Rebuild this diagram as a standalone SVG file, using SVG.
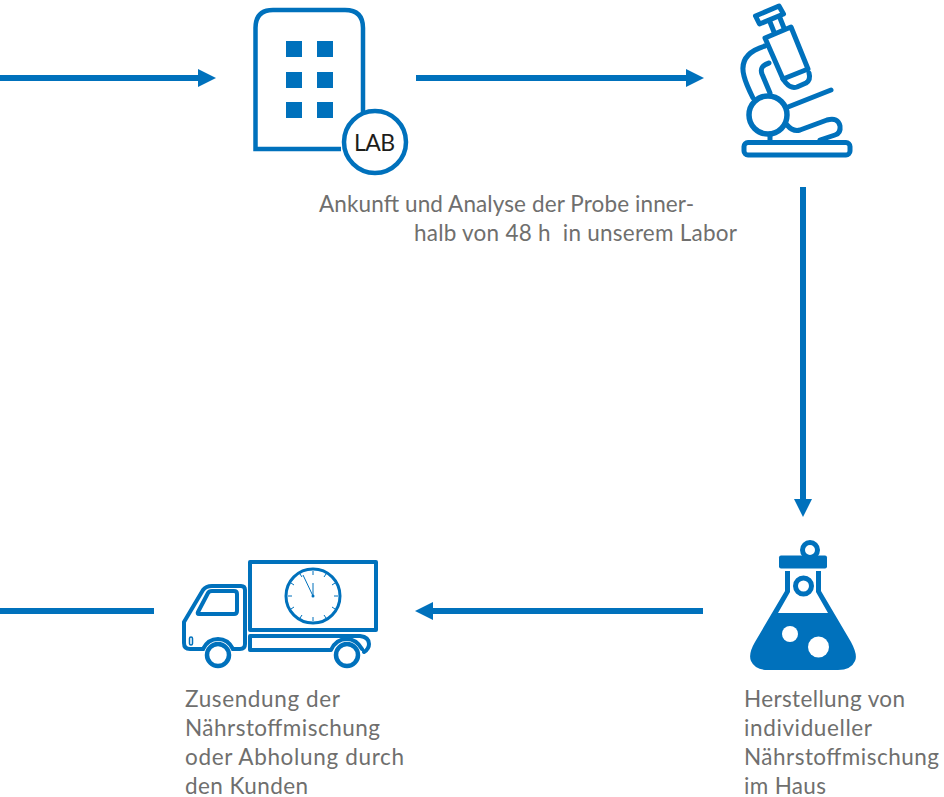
<svg xmlns="http://www.w3.org/2000/svg" width="944" height="797" viewBox="0 0 944 797">
<style>
.t{font-family:"Lato","Open Sans",sans-serif;font-size:22.5px;fill:#6f6f6e;white-space:pre}
.c{fill:none;stroke:#0071bc;stroke-width:6}
.a{fill:#0071bc}
.s{fill:none;stroke:#0071bc;stroke-width:4;stroke-linecap:round;stroke-linejoin:round}
.m{fill:none;stroke:#0071bc;stroke-width:5;stroke-linecap:round;stroke-linejoin:round}
.f{fill:#0071bc}
.w{fill:#fff}
</style>
<rect width="944" height="797" fill="#fff"/>
<g id="connectors">
<path class="c" d="M0 78H200"/><path class="a" d="M198 69L216 78L198 87Z"/>
<path class="c" d="M416 78H688"/><path class="a" d="M686 69L704 78L686 87Z"/>
<path class="c" d="M803 187V501"/><path class="a" d="M794 499L803 517L812 499Z"/>
<path class="c" d="M703 611H431"/><path class="a" d="M433 602L415 611L433 620Z"/>
<path class="c" d="M154 611H0"/>
</g>
<g id="lab">
<path d="M341 149H255.500V28Q255.500 10 273 10H345Q363 10 363 28V112" fill="none" stroke="#0071bc" stroke-width="4.5"/>
<g class="f"><rect x="286" y="41" width="16" height="16"/><rect x="317" y="41" width="16" height="16"/><rect x="286" y="72" width="16" height="16"/><rect x="317" y="72" width="16" height="16"/><rect x="286" y="102" width="16" height="16"/><rect x="317" y="102" width="16" height="16"/></g>
<circle cx="375" cy="142" r="31" fill="#fff" stroke="#0071bc" stroke-width="4.5"/>
<text x="354" y="150.500" textLength="41" style="font-family:Lato,'Open Sans',sans-serif;font-size:23px;fill:#1d1d1b">LAB</text>
</g>
<g id="lab-label"><text class="t" x="319" y="211.500" textLength="375">Ankunft und Analyse der Probe inner-</text><text class="t" x="414" y="240.500" textLength="323" xml:space="preserve">halb von 48 h  in unserem Labor</text></g>
<g id="microscope">
<path class="m" d="M755.500 16L779 6L783.500 14L759.500 24Z"/>
<path class="m" d="M770 22L774 32M780 18L784 28"/>
<path class="m" d="M765 38L791 27L808 69L783 79Z"/>
<path class="m" d="M783 79L786 83Q791 89 797 87L806 83Q811 80 809 73"/>
<path class="m" d="M765 46Q738 54 744 76Q746 84 753 98M769 63Q759 66 762 74L770 93"/>
<circle cx="768" cy="115" r="19" fill="none" stroke="#0071bc" stroke-width="5.500"/>
<path class="m" d="M788 107L831 90M787 125Q793 132 800 130L827 120Q838 117 840 126Q841 133 835 135L820 140"/>
<path class="m" d="M770 134V140"/>
<rect x="744" y="142.500" width="106" height="12.500" rx="4" class="m"/>
</g>
<g id="flask">
<circle cx="810" cy="550" r="7.500" fill="#fff" stroke="#0071bc" stroke-width="5"/>
<rect x="779" y="555.500" width="48" height="13" rx="2" class="f"/>
<circle cx="803.500" cy="586" r="8" fill="#fff" stroke="#0071bc" stroke-width="5"/>
<path class="f" d="M785 571H790V592L778 613H828L816 592V571H821V591L851 642Q858 655 855 661Q851 670 838 670H768Q755 670 751 661Q748 654 755 642L785 591Z"/>
<circle cx="790" cy="634" r="8" class="w"/><circle cx="818.500" cy="647" r="10.500" class="w"/>
</g>
<g id="truck">
<rect x="250" y="562" width="126" height="68" class="s"/>
<circle cx="313" cy="596" r="27" fill="#fff" stroke="#0071bc" stroke-width="3"/>
<g stroke="#0071bc" stroke-width="1" fill="none"><path d="M313 571V575M313 617V621M288 596H292M334 596H338M300 574L302 577M324 615L326 618M326 574L324 577M302 615L300 618M291 583L294 585M332 607L335 609M335 583L332 585M294 607L291 609"/><path d="M313 595V583M313 596L303 575"/></g>
<circle cx="313" cy="596" r="1.500" class="f"/>
<path class="s" d="M203 649H190Q184 649 184 643V622L203 590Q206 586 212 586H241Q245 586 245 590V644Q245 649 240 649H233"/>
<path class="s" d="M198 612L208 593Q209 591 212 591H234Q237 591 237 594V611Q237 614 234 614H199Q197 614 198 612Z" stroke-width="3"/>
<rect x="189.500" y="637" width="3" height="8" rx="1.500" fill="none" stroke="#0071bc" stroke-width="1.500"/>
<path class="s" d="M203 649Q208 639 218 639Q228 639 233 649"/>
<path class="s" d="M250 636H360Q369 637 369 644Q369 649 364 652M250 636V650H331Q336 639 347 639Q356 639 362 649"/>
<circle cx="218" cy="655" r="11" fill="#fff" stroke="#0071bc" stroke-width="4.500"/>
<circle cx="347" cy="655" r="11" fill="#fff" stroke="#0071bc" stroke-width="4.500"/>
</g>
<g id="flask-label"><text class="t" x="744" y="707" textLength="161">Herstellung von</text><text class="t" x="744" y="736" textLength="128">individueller</text><text class="t" x="744" y="765" textLength="195">Nährstoffmischung</text><text class="t" x="744" y="793.500" textLength="82">im Haus</text></g>
<g id="truck-label"><text class="t" x="185" y="707" textLength="155">Zusendung der</text><text class="t" x="185" y="736" textLength="195">Nährstoffmischung</text><text class="t" x="185" y="765" textLength="219">oder Abholung durch</text><text class="t" x="185" y="793.500" textLength="123">den Kunden</text></g>
</svg>
